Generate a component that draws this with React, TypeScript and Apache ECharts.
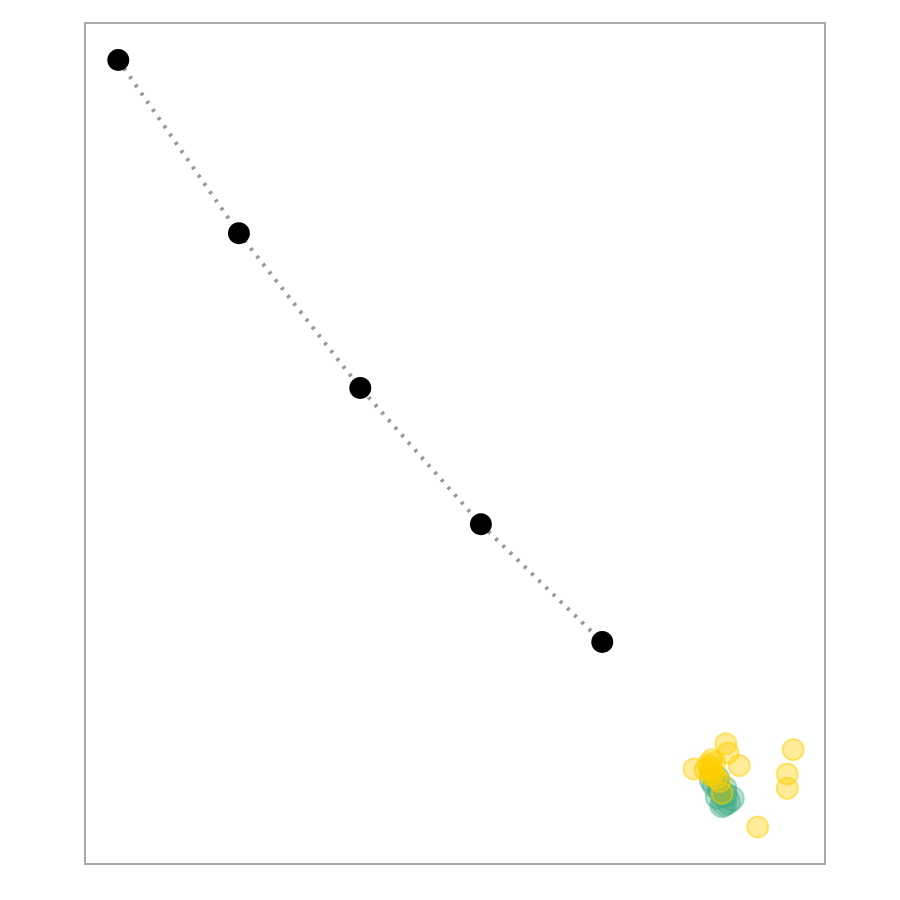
import React, { useEffect, useRef } from "react";
import * as echarts from "echarts";

const pathX = [4.5, 20.8, 37.2, 53.5, 69.9];
const pathY = [95.6, 75.0, 56.6, 40.4, 26.4];

const tealX = [85.1, 85.8, 86.5, 86.9, 86.1, 87.4, 85.5, 86.4, 84.7, 86.4, 85.4];
const tealY = [9.4, 8.8, 8.2, 7.4, 7.0, 7.8, 8.0, 9.0, 10.0, 7.2, 10.2];

const yellowX = [86.6, 86.9, 82.3, 88.4, 84.7, 84.5, 84.9, 86.1, 95.7, 94.9, 94.9, 90.9, 85.8, 84.2, 84.7, 85.1, 83.8, 85.3, 84.5];
const yellowY = [14.3, 13.2, 11.3, 11.7, 12.4, 11.5, 10.8, 8.4, 13.6, 10.7, 9.0, 4.4, 9.8, 11.8, 11.2, 12.1, 11.2, 10.2, 10.6];

export default function App() {
  const ref = useRef<HTMLDivElement>(null);
  useEffect(() => {
    const chart = echarts.init(ref.current!, null, { renderer: "svg" });
    chart.setOption({
      animation: false,
      grid: {
        left: 85,
        top: 23,
        width: 740,
        height: 841,
        show: true,
        borderColor: "#aaaaaa",
        borderWidth: 2,
        backgroundColor: "#ffffff",
      },
      xAxis: { type: "value", min: 0, max: 100, show: false },
      yAxis: { type: "value", min: 0, max: 100, show: false },
      series: [
        {
          type: "scatter",
          data: tealX.map((x, i) => [x, tealY[i]]),
          symbolSize: 24,
          itemStyle: {
            color: "rgba(58,168,128,0.45)",
            borderColor: "rgba(58,168,128,0.5)",
            borderWidth: 2,
          },
          z: 2,
        },
        {
          type: "scatter",
          data: yellowX.map((x, i) => [x, yellowY[i]]),
          symbolSize: 21,
          itemStyle: {
            color: "rgba(255,208,0,0.5)",
            borderColor: "rgba(255,208,0,0.65)",
            borderWidth: 2,
          },
          z: 3,
        },
        {
          type: "line",
          data: pathX.map((x, i) => [x, pathY[i]]),
          symbol: "circle",
          symbolSize: 22,
          lineStyle: { color: "#999999", width: 4, type: [3, 7] },
          itemStyle: { color: "#000000" },
          z: 4,
        },
      ],
    });
    return () => chart.dispose();
  }, []);
  return <div ref={ref} style={{ width: 900, height: 900, margin: -8 }} />;
}
